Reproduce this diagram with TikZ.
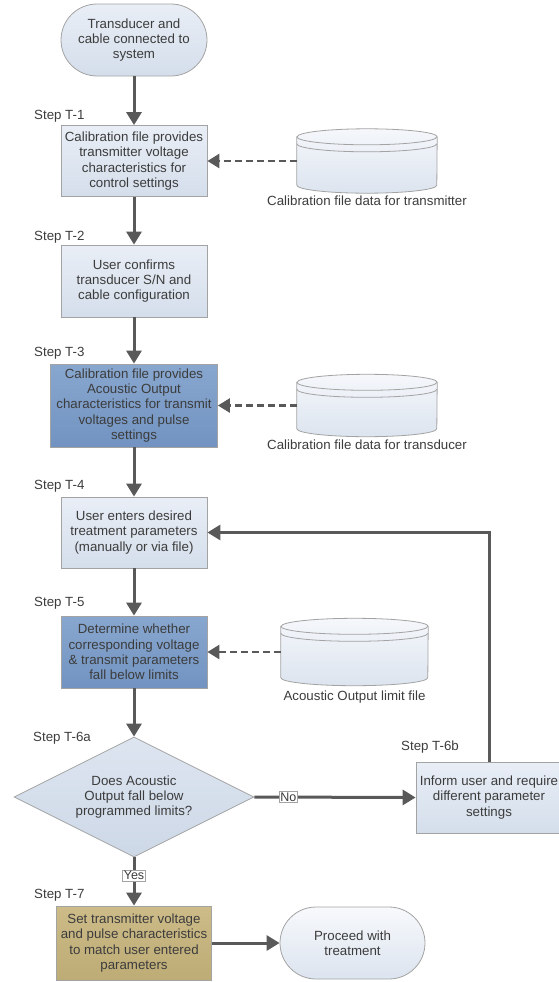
\documentclass[tikz,border=0pt]{standalone}
\usepackage{fontspec}
\setmainfont{Liberation Sans}
\usetikzlibrary{arrows.meta,shapes.geometric,shapes.misc,calc}
\definecolor{txt}{HTML}{3C3C3C}
\definecolor{arrc}{HTML}{595959}
\definecolor{edgec}{HTML}{A3A3A3}
\definecolor{ltA}{HTML}{E9EEF6}
\definecolor{ltB}{HTML}{D4DEEB}
\definecolor{dkA}{HTML}{88A7CF}
\definecolor{dkB}{HTML}{7293C1}
\definecolor{khA}{HTML}{CDBB88}
\definecolor{khB}{HTML}{BEAC76}
\definecolor{cyA}{HTML}{F5F7FB}
\definecolor{cyB}{HTML}{DCE4EF}
\definecolor{diaA}{HTML}{DDE5F0}
\definecolor{diaB}{HTML}{CDD8E7}
\definecolor{endA}{HTML}{F7F9FC}
\definecolor{endB}{HTML}{DCE4EF}
\newcommand{\dbshape}[2]{%
  \path[draw=edgec, line width=0.8pt, top color=cyA, bottom color=cyB]
    ($(#1.north west)+(0,8)$) -- ($(#1.south west)+(0,-8)$)
    arc[start angle=180, end angle=360, x radius=#2, y radius=8pt]
    -- ($(#1.north east)+(0,8)$)
    arc[start angle=0, end angle=180, x radius=#2, y radius=8pt] -- cycle;
  \draw[draw=edgec, line width=0.8pt] ($(#1.north west)+(0,8)$)
    arc[start angle=180, end angle=360, x radius=#2, y radius=8pt];
  \draw[draw=edgec, line width=0.8pt] ($(#1.north west)+(0,15)$)
    arc[start angle=180, end angle=360, x radius=#2, y radius=8pt];
}
\begin{document}
\begin{tikzpicture}[x=1pt, y=-1pt,
  base/.style={draw=edgec, line width=0.8pt, text=txt, align=center, inner sep=1pt,
    font=\fontsize{13.3}{15.3}\selectfont},
  lbox/.style={base, rectangle, top color=ltA, bottom color=ltB},
  dbox/.style={base, rectangle, top color=dkA, bottom color=dkB},
  kbox/.style={base, rectangle, top color=khA, bottom color=khB},
  term/.style={base, rounded rectangle},
  decis/.style={base, diamond, inner sep=0pt, aspect=2, top color=diaA, bottom color=diaB},
  cylnode/.style={rectangle, draw=none, inner sep=0pt},
  clabel/.style={text=txt, inner sep=0pt, font=\fontsize{13.3}{15.3}\selectfont},
  steplbl/.style={text=txt, inner sep=0pt, anchor=west, font=\fontsize{13.3}{15.3}\selectfont},
  arr/.style={draw=arrc, line width=3pt, -{Triangle[length=13pt,width=15pt]}},
  darr/.style={draw=arrc, line width=2.6pt, dash pattern=on 7pt off 4pt, -{Triangle[length=12pt,width=14pt]}},
  yn/.style={draw=edgec, line width=0.6pt, fill=white, text=txt, inner sep=1.2pt,
    font=\fontsize{12.5}{14}\selectfont}
]
\useasboundingbox (0,0) rectangle (558,982);

\node[term, top color=ltA, bottom color=ltB, minimum width=148pt, minimum height=72pt] (start) at (134,40)
  {Transducer and\\cable connected to\\system};

\node[steplbl] (s1) at (34,116) {Step T-1};
\node[lbox, minimum width=146pt, minimum height=71pt] (t1) at (134,161)
  {Calibration file provides\\transmitter voltage\\characteristics for\\control settings};
\node[cylnode, minimum width=140pt, minimum height=64pt] (cyl1) at (367,161) {};
\dbshape{cyl1}{70pt}
\node[clabel] (cyl1l) at (367,201) {Calibration file data for transmitter};

\node[steplbl] (s2) at (34,237) {Step T-2};
\node[lbox, minimum width=146pt, minimum height=72pt] (t2) at (134,281)
  {User confirms\\transducer S/N and\\cable configuration};

\node[steplbl] (s3) at (34,353) {Step T-3};
\node[dbox, minimum width=167pt, minimum height=83pt] (t3) at (134,405.5)
  {Calibration file provides\\Acoustic Output\\characteristics for transmit\\voltages and pulse\\settings};
\node[cylnode, minimum width=140pt, minimum height=62pt] (cyl2) at (367,405.5) {};
\dbshape{cyl2}{70pt}
\node[clabel] (cyl2l) at (367,445) {Calibration file data for transducer};

\node[steplbl] (s4) at (34,486) {Step T-4};
\node[lbox, minimum width=146pt, minimum height=71pt] (t4) at (134,532.5)
  {User enters desired\\treatment parameters\\(manually or via file)};

\node[steplbl] (s5) at (34,603) {Step T-5};
\node[dbox, minimum width=146pt, minimum height=72pt] (t5) at (134,652)
  {Determine whether\\corresponding voltage\\\& transmit parameters\\fall below limits};
\node[cylnode, minimum width=147pt, minimum height=67pt] (cyl3) at (354.5,652) {};
\dbshape{cyl3}{73.5pt}
\node[clabel] (cyl3l) at (354.5,697) {Acoustic Output limit file};

\node[steplbl] (s6a) at (33,738) {Step T-6a};
\node[decis, minimum width=240pt, minimum height=120pt] (dec) at (134,797)
  {Does Acoustic\\Output fall below\\programmed limits?};

\node[steplbl] (s6b) at (401,747) {Step T-6b};
\node[lbox, minimum width=146pt, minimum height=71pt] (t6b) at (489,797.5)
  {Inform user and require\\different parameter\\settings};

\node[steplbl] (s7) at (34,895) {Step T-7};
\node[kbox, minimum width=155pt, minimum height=74pt] (t7) at (134,943)
  {Set transmitter voltage\\and pulse characteristics\\to match user entered\\parameters};
\node[term, top color=endA, bottom color=endB, minimum width=147pt, minimum height=72pt] (fin) at (352.5,943)
  {Proceed with\\treatment};

% connectors
\draw[arr] (start.south) -- (t1.north);
\draw[arr] (t1.south) -- (t2.north);
\draw[arr] (t2.south) -- (t3.north);
\draw[arr] (t3.south) -- (t4.north);
\draw[arr] (t4.south) -- (t5.north);
\draw[arr] (t5.south) -- (dec.north);
\draw[arr] (dec.east) -- node[yn, pos=0.21] {No} (t6b.west);
\draw[arr] (dec.south) -- node[yn, pos=0.38] {Yes} (t7.north);
\draw[arr] (t6b.north) |- (t4.east);
\draw[arr] (t7.east) -- (fin.west);
\draw[darr] (cyl1.west) -- (t1.east);
\draw[darr] (cyl2.west) -- (t3.east);
\draw[darr] (cyl3.west) -- (t5.east);
\end{tikzpicture}
\end{document}
